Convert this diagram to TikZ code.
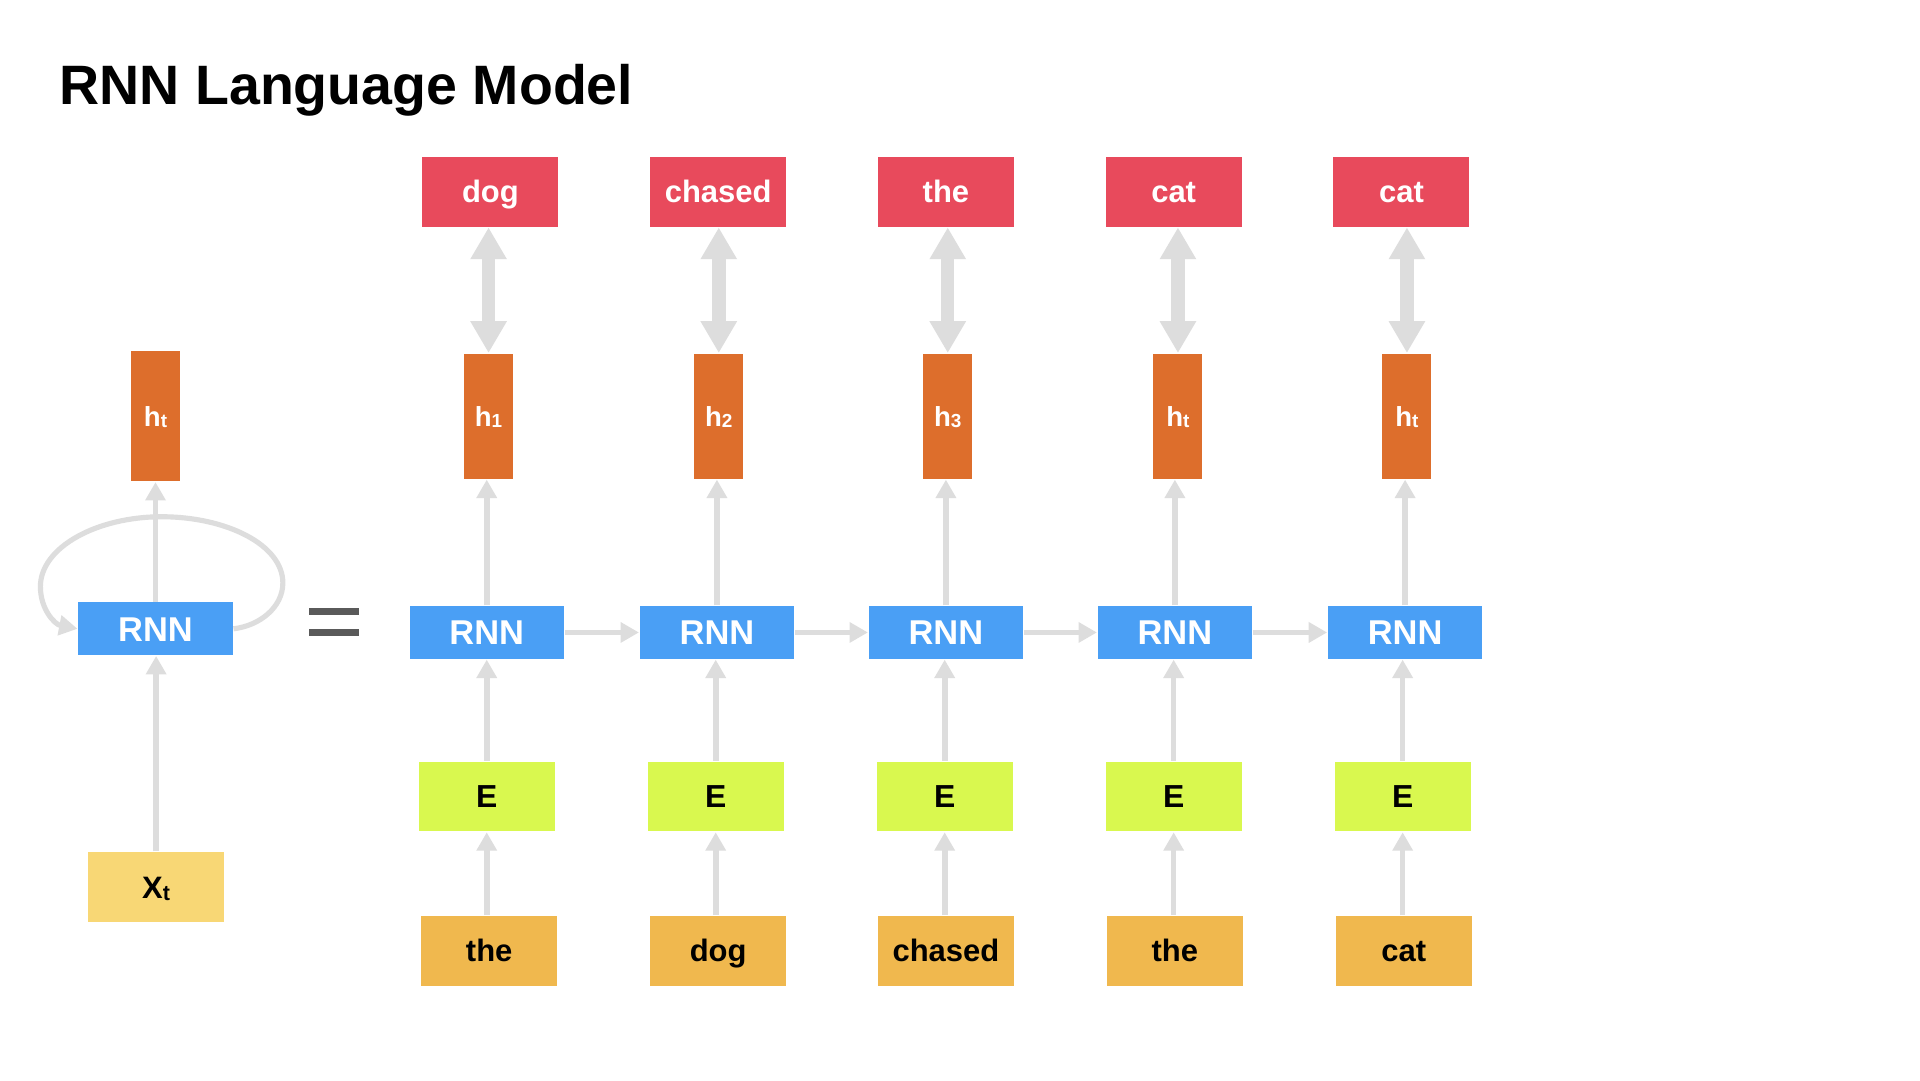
\documentclass[tikz,border=0pt]{standalone}
\usepackage{fontspec}
\setmainfont{Liberation Sans}
\usetikzlibrary{arrows.meta}
\definecolor{cRed}{HTML}{E84A5C}
\definecolor{cOrange}{HTML}{DD6E2C}
\definecolor{cBlue}{HTML}{4A9FF5}
\definecolor{cLime}{HTML}{D9F84F}
\definecolor{cSand}{HTML}{F0B84E}
\definecolor{cPale}{HTML}{F8D775}
\definecolor{cArrow}{HTML}{DDDDDD}
\definecolor{cEq}{HTML}{5A5A5A}
\newcommand{\hsub}[2]{#1\raisebox{-0.4pt}{\fontsize{4.4pt}{4.4pt}\selectfont #2}}
\newcommand{\xsub}[2]{#1\raisebox{-0.5pt}{\fontsize{5pt}{5pt}\selectfont #2}}
\begin{document}
\begin{tikzpicture}[x=0.1mm,y=-0.1mm,
  basebox/.style={rectangle, draw=none, inner sep=0pt, text depth=0pt},
  outbox/.style={basebox, fill=cRed, text=white, minimum width=11.1mm, minimum height=5.7mm,
     font=\fontsize{7.2pt}{8pt}\selectfont\bfseries, text height=5.15pt},
  hbox/.style={basebox, fill=cOrange, text=white, minimum width=4mm, minimum height=10.2mm,
     font=\fontsize{6.4pt}{7pt}\selectfont\bfseries, text height=4.6pt},
  rnnbox/.style={basebox, fill=cBlue, text=white, minimum width=12.6mm, minimum height=4.3mm,
     font=\fontsize{8pt}{9pt}\selectfont\bfseries, text height=5.75pt},
  embbox/.style={basebox, fill=cLime, text=black, minimum width=11.1mm, minimum height=5.7mm,
     font=\fontsize{7.4pt}{8pt}\selectfont\bfseries, text height=5.3pt},
  inbox/.style={basebox, fill=cSand, text=black, minimum width=11.1mm, minimum height=5.7mm,
     font=\fontsize{7.2pt}{8pt}\selectfont\bfseries, text height=5.15pt},
  xbox/.style={basebox, fill=cPale, text=black, minimum width=11.1mm, minimum height=5.7mm,
     font=\fontsize{7.2pt}{8pt}\selectfont\bfseries, text height=5.2pt},
  thinarr/.style={draw=cArrow, line width=0.46mm, -{Triangle[length=1.5mm,width=1.6mm]}},
  dblarr/.style={draw=cArrow, line width=1.1mm, {Triangle[length=2.6mm,width=2.8mm]}-{Triangle[length=2.6mm,width=2.8mm]}},
  loopline/.style={draw=cArrow, line width=0.42mm, -{Triangle[length=1.5mm,width=1.6mm]}}
]
\useasboundingbox (0,0) rectangle (1568,882);
\fill[white] (0,0) rectangle (1568,882);

% title
\node[anchor=base west, inner sep=0pt, font=\fontsize{12.9pt}{15pt}\selectfont\bfseries] (title) at (48,85) {RNN Language Model};

% left folded RNN
\node[hbox, minimum height=10.6mm] (lh) at (127,340) {\hsub{h}{t}};
\node[rnnbox] (lr) at (127,513.5) {RNN};
\node[xbox] (lx) at (127.5,724.5) {\xsub{X}{t}};

\draw[loopline] (lr.east) .. controls (212,511) and (231,496) .. (231,476)
   .. controls (231,445) and (185,422) .. (132,422)
   .. controls (79,422) and (33,447) .. (33,479)
   .. controls (33,498) and (45,510) .. (lr.west);
\draw[thinarr] (lr.north) -- (lh.south);
\draw[thinarr] (lx.north) -- (lx.north |- lr.south);

% equals sign
\fill[cEq] (252,496.5) rectangle (293,502.5);
\fill[cEq] (252,513.5) rectangle (293,519.5);

% unrolled columns
\foreach \i/\xo/\xh/\xr/\xe/\xw/\ow/\hs/\iw in {
 1/400.5/399/397.5/397.5/399.5/dog/1/the,
 2/586.5/587/585.5/584.5/586.5/chased/2/dog,
 3/772.5/774/772.5/771.5/772.5/the/3/chased,
 4/958.5/962/959.5/958.5/959.5/cat/t/the,
 5/1144.5/1149/1147.5/1145.5/1146.5/cat/t/cat}{
  \node[outbox] (o\i) at (\xo,156.5) {\ow};
  \node[hbox] (h\i) at (\xh,340) {\hsub{h}{\hs}};
  \node[rnnbox] (r\i) at (\xr,516.5) {RNN};
  \node[embbox] (e\i) at (\xe,650.5) {E};
  \node[inbox] (w\i) at (\xw,776.5) {\iw};
}
\foreach \i in {1,...,5}{
  \draw[dblarr] (h\i.north) -- (h\i.north |- o\i.south);
  \draw[thinarr] (r\i.north) -- (r\i.north |- h\i.south);
  \draw[thinarr] (e\i.north) -- (e\i.north |- r\i.south);
  \draw[thinarr] (e\i.south |- w\i.north) -- (e\i.south);
}
\foreach \i/\j in {1/2,2/3,3/4,4/5}{
  \draw[thinarr] (r\i.east) -- (r\j.west);
}
\end{tikzpicture}
\end{document}
